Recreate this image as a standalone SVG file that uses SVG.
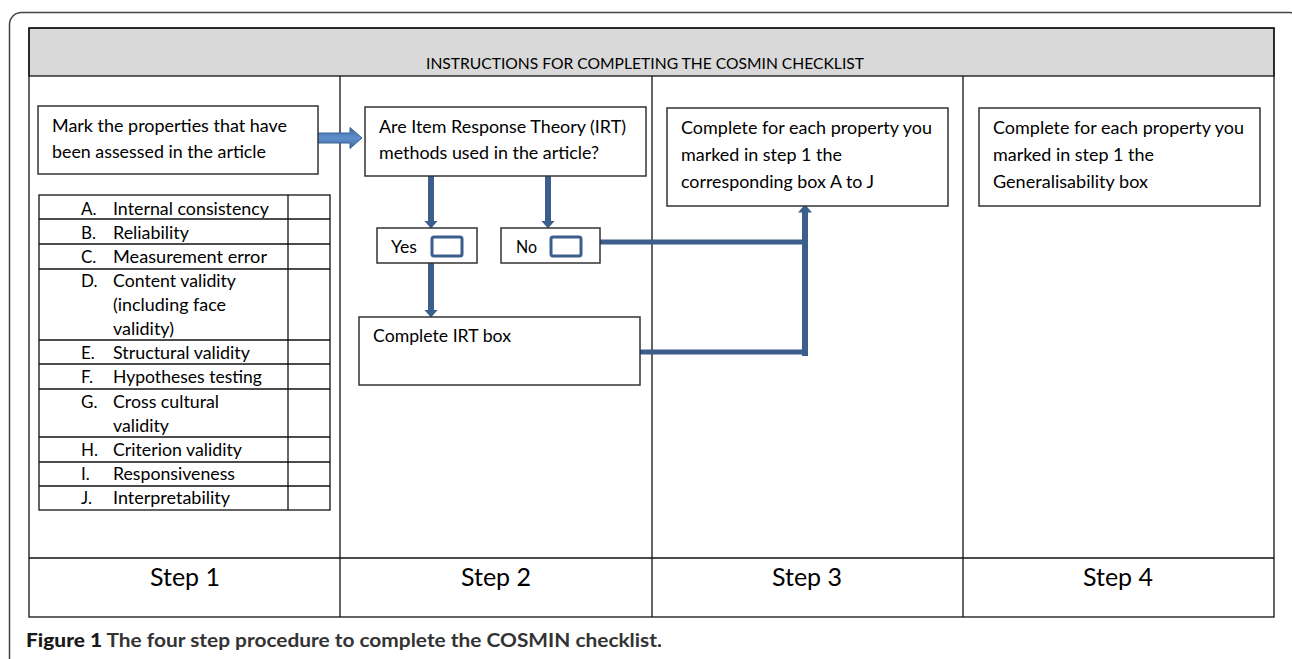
<svg xmlns="http://www.w3.org/2000/svg" width="1292" height="659" viewBox="0 0 1292 659">
<defs>
<style>
.t{font-family:Lato,"Liberation Sans",sans-serif;font-size:17px;fill:#000}
.tb{font-family:Lato,"Liberation Sans",sans-serif;font-size:17px;fill:#000}
.hd{font-family:Lato,"Liberation Sans",sans-serif;font-size:16px;fill:#000}
.st{font-family:Lato,"Liberation Sans",sans-serif;font-size:25px;fill:#000}
.cap{font-family:Lato,"Liberation Sans",sans-serif;font-size:18px;font-weight:bold;fill:#333}
.box{fill:#fff;stroke:#333;stroke-width:1.5}
.grid{fill:none;stroke:#111;stroke-width:1.3}
.conn{fill:none;stroke:#3b5e8d;stroke-width:6}
.connh{fill:none;stroke:#3b5e8d;stroke-width:5}
.chk{fill:#fff;stroke:#3b5e8d;stroke-width:3}
</style>
<linearGradient id="ag" x1="0" y1="0" x2="0" y2="1">
<stop offset="0" stop-color="#3d6aa3"/>
<stop offset="0.5" stop-color="#5f8fcb"/>
<stop offset="1" stop-color="#3d6aa3"/>
</linearGradient>
<marker id="ah" viewBox="0 0 8 14" refX="0.5" refY="7" markerWidth="8" markerHeight="14" markerUnits="userSpaceOnUse" orient="auto">
<path d="M0,0 L8,7 L0,14 Z" fill="#3b5e8d"/>
</marker>
</defs>
<rect x="0" y="0" width="1292" height="659" fill="#fff"/>
<rect x="9.5" y="12.5" width="1292" height="700" rx="12" fill="none" stroke="#444" stroke-width="1.5"/>
<g id="table">
<rect x="29" y="28" width="1245" height="48" fill="#d9d9d9" stroke="#111" stroke-width="1.3"/>
<text class="hd" x="426" y="69" textLength="438" lengthAdjust="spacingAndGlyphs">INSTRUCTIONS FOR COMPLETING THE COSMIN CHECKLIST</text>
<rect class="grid" x="29" y="28" width="1245" height="589"/>
<line class="grid" x1="29" y1="558" x2="1274" y2="558"/>
<line class="grid" x1="340" y1="76" x2="340" y2="617"/>
<line class="grid" x1="652" y1="76" x2="652" y2="617"/>
<line class="grid" x1="963" y1="76" x2="963" y2="617"/>
<text class="st" x="185" y="586" text-anchor="middle" textLength="70" lengthAdjust="spacingAndGlyphs">Step 1</text>
<text class="st" x="496" y="586" text-anchor="middle" textLength="70" lengthAdjust="spacingAndGlyphs">Step 2</text>
<text class="st" x="807" y="586" text-anchor="middle" textLength="70" lengthAdjust="spacingAndGlyphs">Step 3</text>
<text class="st" x="1118" y="586" text-anchor="middle" textLength="70" lengthAdjust="spacingAndGlyphs">Step 4</text>
</g>
<g id="connectors">
<g id="arrow-step1-step2">
<path d="M317,133 L350,133 L350,127.5 L362,138 L350,148.5 L350,143 L317,143 Z" fill="url(#ag)" stroke="#3a6296" stroke-width="1"/>
</g>
<path class="conn" d="M431,176 L431,221" marker-end="url(#ah)"/>
<path class="conn" d="M548,176 L548,221" marker-end="url(#ah)"/>
<path class="conn" d="M431,263 L431,310" marker-end="url(#ah)"/>
<path class="connh" d="M600,242 L808,242"/>
<path class="connh" d="M640,352 L808,352"/>
<path class="conn" d="M805,356 L805,212" marker-end="url(#ah)"/>
</g>
<g id="node-mark">
<rect class="box" x="38" y="106" width="280" height="68"/>
<text class="t" x="52" y="132" textLength="235" lengthAdjust="spacingAndGlyphs">Mark the properties that have</text>
<text class="t" x="52" y="158" textLength="214" lengthAdjust="spacingAndGlyphs">been assessed in the article</text>
</g>
<g id="node-properties">
<rect class="grid" x="39" y="195" width="291" height="315"/>
<line class="grid" x1="288" y1="195" x2="288" y2="510"/>
<line class="grid" x1="39" y1="219" x2="330" y2="219"/>
<line class="grid" x1="39" y1="244" x2="330" y2="244"/>
<line class="grid" x1="39" y1="269" x2="330" y2="269"/>
<line class="grid" x1="39" y1="340" x2="330" y2="340"/>
<line class="grid" x1="39" y1="364" x2="330" y2="364"/>
<line class="grid" x1="39" y1="389" x2="330" y2="389"/>
<line class="grid" x1="39" y1="437" x2="330" y2="437"/>
<line class="grid" x1="39" y1="462" x2="330" y2="462"/>
<line class="grid" x1="39" y1="486" x2="330" y2="486"/>
<text class="tb" x="81" y="215">A.</text><text class="tb" x="113" y="215" textLength="156" lengthAdjust="spacingAndGlyphs">Internal consistency</text>
<text class="tb" x="81" y="239">B.</text><text class="tb" x="113" y="239" textLength="76" lengthAdjust="spacingAndGlyphs">Reliability</text>
<text class="tb" x="81" y="263">C.</text><text class="tb" x="113" y="263" textLength="154" lengthAdjust="spacingAndGlyphs">Measurement error</text>
<text class="tb" x="81" y="287">D.</text><text class="tb" x="113" y="287" textLength="123" lengthAdjust="spacingAndGlyphs">Content validity</text>
<text class="tb" x="113" y="311" textLength="113" lengthAdjust="spacingAndGlyphs">(including face</text>
<text class="tb" x="113" y="335" textLength="61" lengthAdjust="spacingAndGlyphs">validity)</text>
<text class="tb" x="81" y="359">E.</text><text class="tb" x="113" y="359" textLength="137" lengthAdjust="spacingAndGlyphs">Structural validity</text>
<text class="tb" x="81" y="383">F.</text><text class="tb" x="113" y="383" textLength="149" lengthAdjust="spacingAndGlyphs">Hypotheses testing</text>
<text class="tb" x="81" y="408">G.</text><text class="tb" x="113" y="408" textLength="106" lengthAdjust="spacingAndGlyphs">Cross cultural</text>
<text class="tb" x="113" y="432" textLength="56" lengthAdjust="spacingAndGlyphs">validity</text>
<text class="tb" x="81" y="456">H.</text><text class="tb" x="113" y="456" textLength="129" lengthAdjust="spacingAndGlyphs">Criterion validity</text>
<text class="tb" x="81" y="480">I.</text><text class="tb" x="113" y="480" textLength="122" lengthAdjust="spacingAndGlyphs">Responsiveness</text>
<text class="tb" x="81" y="504">J.</text><text class="tb" x="113" y="504" textLength="117" lengthAdjust="spacingAndGlyphs">Interpretability</text>
</g>
<g id="node-irt-question">
<rect class="box" x="365" y="107" width="281" height="69"/>
<text class="t" x="379" y="133" textLength="247" lengthAdjust="spacingAndGlyphs">Are Item Response Theory (IRT)</text>
<text class="t" x="379" y="159" textLength="220" lengthAdjust="spacingAndGlyphs">methods used in the article?</text>
</g>
<g id="node-yes">
<rect class="box" x="377" y="228" width="100" height="35"/>
<text class="t" x="391" y="253" textLength="26" lengthAdjust="spacingAndGlyphs">Yes</text>
<rect class="chk" x="432" y="237" width="30" height="19" rx="2"/>
</g>
<g id="node-no">
<rect class="box" x="501" y="228" width="99" height="35"/>
<text class="t" x="516" y="253" textLength="21" lengthAdjust="spacingAndGlyphs">No</text>
<rect class="chk" x="551" y="237" width="30" height="19" rx="2"/>
</g>
<g id="node-irt-box">
<rect class="box" x="359" y="317" width="281" height="68"/>
<text class="t" x="373" y="342" textLength="138" lengthAdjust="spacingAndGlyphs">Complete IRT box</text>
</g>
<g id="node-step3">
<rect class="box" x="667" y="108" width="281" height="98"/>
<text class="t" x="681" y="134" textLength="251" lengthAdjust="spacingAndGlyphs">Complete for each property you</text>
<text class="t" x="681" y="161" textLength="161" lengthAdjust="spacingAndGlyphs">marked in step 1 the</text>
<text class="t" x="681" y="188" textLength="193" lengthAdjust="spacingAndGlyphs">corresponding box A to J</text>
</g>
<g id="node-step4">
<rect class="box" x="979" y="108" width="281" height="98"/>
<text class="t" x="993" y="134" textLength="251" lengthAdjust="spacingAndGlyphs">Complete for each property you</text>
<text class="t" x="993" y="161" textLength="161" lengthAdjust="spacingAndGlyphs">marked in step 1 the</text>
<text class="t" x="993" y="188" textLength="155" lengthAdjust="spacingAndGlyphs">Generalisability box</text>
</g>
<text class="cap" x="26" y="647" textLength="636" lengthAdjust="spacingAndGlyphs"><tspan fill="#1a1a1a" font-weight="900">Figure 1</tspan> The four step procedure to complete the COSMIN checklist.</text>
</svg>
